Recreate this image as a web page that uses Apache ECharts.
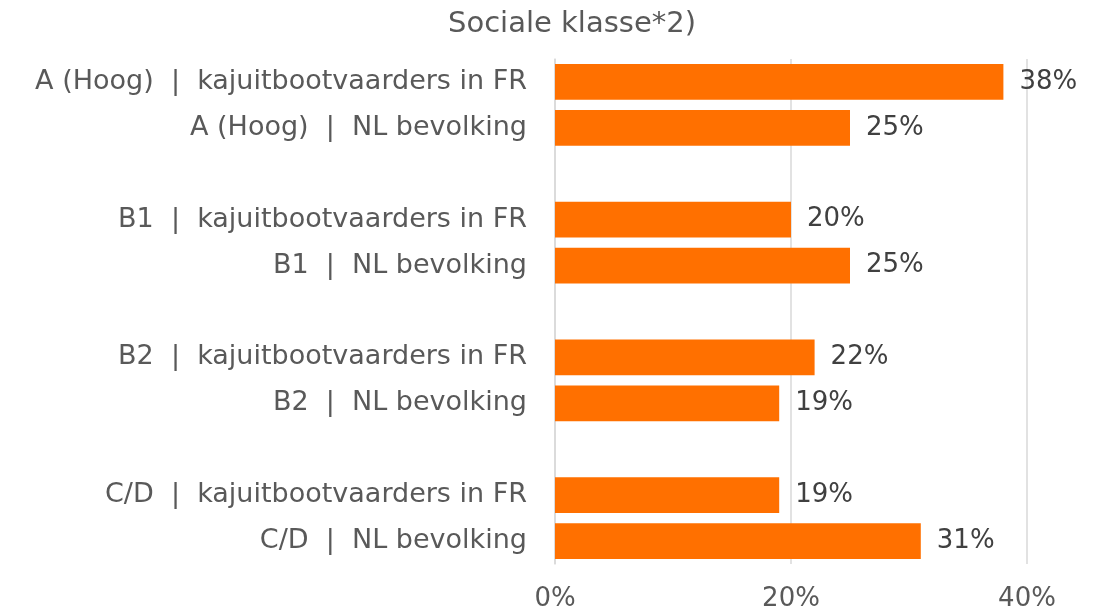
<!DOCTYPE html>
<html><head><meta charset="utf-8">
<script src="https://cdn.jsdelivr.net/npm/echarts@6/dist/echarts.min.js"></script>
<style>html,body{margin:0;padding:0;background:#fff}#c{width:1096px;height:616px}</style>
</head><body><div id="c"></div>
<script>
const title = 'Sociale klasse*2)';
const categories = [
  'A (Hoog)  |  kajuitbootvaarders in FR',
  'A (Hoog)  |  NL bevolking',
  ' ',
  'B1  |  kajuitbootvaarders in FR',
  'B1  |  NL bevolking',
  '  ',
  'B2  |  kajuitbootvaarders in FR',
  'B2  |  NL bevolking',
  '   ',
  'C/D  |  kajuitbootvaarders in FR',
  'C/D  |  NL bevolking'
];
const values = [38, 25, null, 20, 25, null, 22, 19, null, 19, 31];
const xTicks = [0, 20, 40];

const FONT = 'DejaVu Sans';
const chart = echarts.init(document.getElementById('c'));
chart.setOption({
  animation: false,
  title: {text: title, left: 567, top: 5, textAlign: 'center',
    textStyle: {fontFamily: FONT, fontSize: 29, fontWeight: 'normal', color: '#595959'}},
  grid: {left: 555, right: 69, top: 59, bottom: 52, containLabel: false},
  xAxis: {type: 'value', min: xTicks[0], max: xTicks[xTicks.length - 1], interval: 20,
    axisLine: {show: false}, axisTick: {show: false},
    splitLine: {lineStyle: {color: '#d9d9d9', width: 1.5}},
    axisLabel: {formatter: v => v + '%', margin: 22, fontFamily: FONT, fontSize: 26, color: '#595959'}},
  yAxis: {type: 'category', data: categories, inverse: true,
    axisLine: {show: true, lineStyle: {color: '#d9d9d9', width: 1.5}}, axisTick: {show: false},
    axisLabel: {margin: 28, fontFamily: FONT, fontSize: 27, color: '#595959'}},
  series: [{type: 'bar', data: values, barWidth: '78%',
    itemStyle: {color: '#ff7000'},
    label: {show: true, position: 'right', distance: 16, formatter: p => p.value + '%',
      fontFamily: FONT, fontSize: 26, color: '#404040'}}]
});
</script></body></html>
